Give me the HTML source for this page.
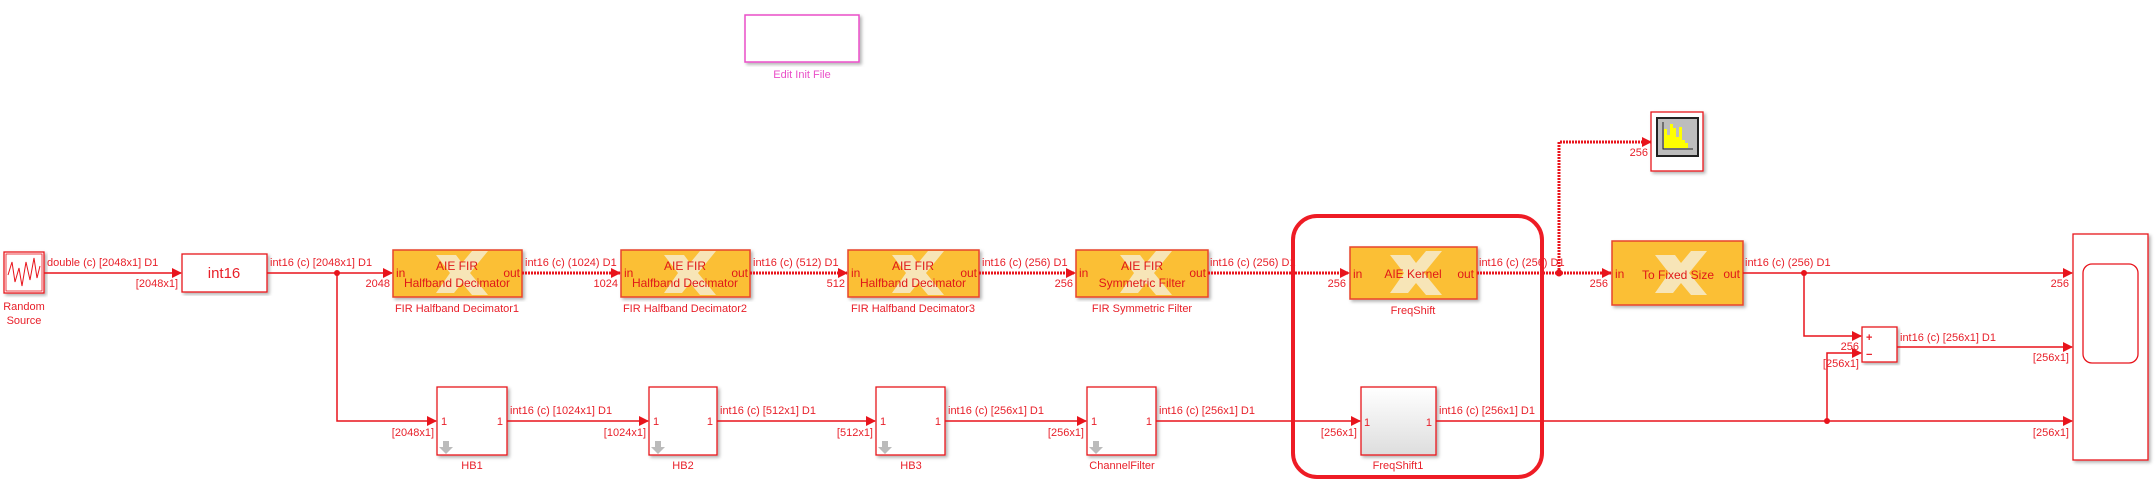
<!DOCTYPE html>
<html><head><meta charset="utf-8"><style>
html,body{margin:0;padding:0;background:#fff;}
svg{display:block;font-family:"Liberation Sans",sans-serif;}
.t{fill:#e8202a;font-size:11px;}
.l{stroke:#e8141c;stroke-width:1.5;fill:none;}
.d{stroke:#e8141c;stroke-width:3;fill:none;stroke-dasharray:2 1;}
.b{fill:#fff;stroke:#e8141c;stroke-width:1.3;}
.o{fill:#fbbf36;stroke:#e8452a;stroke-width:1.5;}
.ot{fill:#e01818;font-size:12px;}
</style></head><body>
<svg width="2155" height="483" viewBox="0 0 2155 483">
<defs>
<marker id="a" markerWidth="10" markerHeight="10" refX="9" refY="5" orient="auto" markerUnits="userSpaceOnUse"><path d="M0,0 L10,5 L0,10 z" fill="#e8141c"/></marker>
<filter id="s"><feDropShadow dx="2" dy="2" stdDeviation="1.5" flood-color="#000" flood-opacity="0.3"/></filter>
<linearGradient id="g" x1="0" y1="0" x2="0" y2="1"><stop offset="0" stop-color="#fff"/><stop offset="1" stop-color="#ddd"/></linearGradient>
<g id="x"><path d="M-22,-18 L-2,-18 L4,-10 L14,-22 L30,-22 L12,0 L30,22 L14,22 L4,10 L-4,20 L-22,20 L-8,0 z" fill="#f6efd8" opacity="0.8"/></g>
<g id="dn"><path d="M-3,-6 h6 v6 h4 l-7,7 l-7,-7 h4 z" fill="#bbb"/></g>
</defs>

<!-- Edit init file -->
<rect x="745" y="15" width="114" height="47" fill="#fff" stroke="#ea4fc8" stroke-width="1.5" filter="url(#s)"/>
<text x="802" y="78" fill="#ea4fc8" font-size="11" text-anchor="middle">Edit Init File</text>

<!-- Random source -->
<rect x="4" y="252" width="40" height="41" class="b" filter="url(#s)"/>
<rect x="6" y="254" width="36" height="37" fill="none" stroke="#e8141c" stroke-width="0.8"/>
<path d="M8,275 L12,262 L15,282 L19,268 L22,286 L26,262 L30,280 L34,258 L37,278 L40,266" fill="none" stroke="#e8141c" stroke-width="1"/>
<text x="24" y="310" class="t" text-anchor="middle">Random</text>
<text x="24" y="324" class="t" text-anchor="middle">Source</text>
<line x1="44" y1="273" x2="181" y2="273" class="l" marker-end="url(#a)"/>
<text x="47" y="266" class="t">double (c) [2048x1] D1</text>
<text x="178" y="287" class="t" text-anchor="end">[2048x1]</text>

<rect x="182" y="254" width="85" height="38" class="b" filter="url(#s)"/>
<text x="224" y="278" fill="#e8202a" font-size="15" text-anchor="middle">int16</text>
<line x1="267" y1="273" x2="392" y2="273" class="l" marker-end="url(#a)"/>
<text x="270" y="266" class="t">int16 (c) [2048x1] D1</text>
<circle cx="337" cy="273" r="3" fill="#e8141c"/>
<polyline points="337,273 337,421 436,421" class="l" marker-end="url(#a)"/>
<text x="390" y="287" class="t" text-anchor="end">2048</text>
<text x="434" y="436" class="t" text-anchor="end">[2048x1]</text>

<!-- FIR blocks -->
<g>
<rect x="393" y="250" width="129" height="47" class="o" filter="url(#s)"/><use href="#x" x="458" y="273"/>
<text x="457" y="270" class="ot" text-anchor="middle">AIE FIR</text><text x="457" y="287" class="ot" text-anchor="middle">Halfband Decimator</text>
<text x="396" y="277" class="ot">in</text><text x="520" y="277" class="ot" text-anchor="end">out</text>
<text x="457" y="312" class="t" text-anchor="middle">FIR Halfband Decimator1</text>
</g>
<line x1="522" y1="273" x2="620" y2="273" class="d" marker-end="url(#a)"/>
<text x="525" y="266" class="t">int16 (c) (1024) D1</text><text x="618" y="287" class="t" text-anchor="end">1024</text>
<g>
<rect x="621" y="250" width="129" height="47" class="o" filter="url(#s)"/><use href="#x" x="686" y="273"/>
<text x="685" y="270" class="ot" text-anchor="middle">AIE FIR</text><text x="685" y="287" class="ot" text-anchor="middle">Halfband Decimator</text>
<text x="624" y="277" class="ot">in</text><text x="748" y="277" class="ot" text-anchor="end">out</text>
<text x="685" y="312" class="t" text-anchor="middle">FIR Halfband Decimator2</text>
</g>
<line x1="750" y1="273" x2="847" y2="273" class="d" marker-end="url(#a)"/>
<text x="753" y="266" class="t">int16 (c) (512) D1</text><text x="845" y="287" class="t" text-anchor="end">512</text>
<g>
<rect x="848" y="250" width="131" height="47" class="o" filter="url(#s)"/><use href="#x" x="914" y="273"/>
<text x="913" y="270" class="ot" text-anchor="middle">AIE FIR</text><text x="913" y="287" class="ot" text-anchor="middle">Halfband Decimator</text>
<text x="851" y="277" class="ot">in</text><text x="977" y="277" class="ot" text-anchor="end">out</text>
<text x="913" y="312" class="t" text-anchor="middle">FIR Halfband Decimator3</text>
</g>
<line x1="979" y1="273" x2="1075" y2="273" class="d" marker-end="url(#a)"/>
<text x="982" y="266" class="t">int16 (c) (256) D1</text><text x="1073" y="287" class="t" text-anchor="end">256</text>
<g>
<rect x="1076" y="250" width="132" height="47" class="o" filter="url(#s)"/><use href="#x" x="1142" y="273"/>
<text x="1142" y="270" class="ot" text-anchor="middle">AIE FIR</text><text x="1142" y="287" class="ot" text-anchor="middle">Symmetric Filter</text>
<text x="1079" y="277" class="ot">in</text><text x="1206" y="277" class="ot" text-anchor="end">out</text>
<text x="1142" y="312" class="t" text-anchor="middle">FIR Symmetric Filter</text>
</g>
<line x1="1208" y1="273" x2="1349" y2="273" class="d" marker-end="url(#a)"/>
<text x="1210" y="266" class="t">int16 (c) (256) D1</text><text x="1346" y="287" class="t" text-anchor="end">256</text>

<!-- FreqShift -->
<rect x="1350" y="247" width="127" height="52" class="o" filter="url(#s)"/><use href="#x" x="1412" y="273"/>
<text x="1413" y="278" class="ot" text-anchor="middle">AIE Kernel</text>
<text x="1353" y="278" class="ot">in</text><text x="1474" y="278" class="ot" text-anchor="end">out</text>
<text x="1413" y="314" class="t" text-anchor="middle">FreqShift</text>
<line x1="1477" y1="273" x2="1611" y2="273" class="d" marker-end="url(#a)"/>
<text x="1479" y="266" class="t">int16 (c) (256) D1</text>
<circle cx="1559" cy="273" r="3.5" fill="#e8141c"/>
<polyline points="1559,273 1559,142 1651,142" class="d" marker-end="url(#a)"/>
<text x="1648" y="156" class="t" text-anchor="end">256</text>
<text x="1608" y="287" class="t" text-anchor="end">256</text>

<!-- spectrum scope -->
<rect x="1651" y="112" width="52" height="59" class="b" filter="url(#s)"/>
<rect x="1657" y="118" width="41" height="38" fill="#bdbdbd" stroke="#222" stroke-width="2"/>
<g fill="#ffff00">
<rect x="1664" y="129" width="3" height="19"/>
<rect x="1667" y="135" width="3" height="13"/>
<rect x="1670" y="124" width="3" height="24"/>
<rect x="1673" y="128" width="3" height="20"/>
<rect x="1676" y="137" width="3" height="11"/>
<rect x="1679" y="127" width="3" height="21"/>
<rect x="1682" y="140" width="3" height="8"/>
<rect x="1685" y="143" width="3" height="5"/>
</g>
<path d="M1663,122 V149 H1693" fill="none" stroke="#222" stroke-width="1"/>

<!-- To Fixed Size -->
<rect x="1612" y="241" width="131" height="64" class="o" filter="url(#s)"/><use href="#x" x="1677" y="273"/>
<text x="1678" y="279" class="ot" text-anchor="middle">To Fixed Size</text>
<text x="1615" y="278" class="ot">in</text><text x="1740" y="278" class="ot" text-anchor="end">out</text>
<line x1="1743" y1="273" x2="2072" y2="273" class="l" marker-end="url(#a)"/>
<text x="1745" y="266" class="t">int16 (c) (256) D1</text>
<text x="2069" y="287" class="t" text-anchor="end">256</text>
<circle cx="1804" cy="273" r="3" fill="#e8141c"/>
<polyline points="1804,273 1804,336 1861,336" class="l" marker-end="url(#a)"/>
<text x="1859" y="350" class="t" text-anchor="end">256</text>

<!-- Sum -->
<rect x="1862" y="327" width="35" height="35" class="b" filter="url(#s)"/>
<text x="1866" y="341" class="t" font-weight="bold">+</text>
<text x="1866" y="358" class="t" font-weight="bold">−</text>
<line x1="1897" y1="347" x2="2072" y2="347" class="l" marker-end="url(#a)"/>
<text x="1900" y="341" class="t">int16 (c) [256x1] D1</text>
<text x="2069" y="361" class="t" text-anchor="end">[256x1]</text>

<!-- Scope -->
<rect x="2073" y="234" width="75" height="226" class="b" filter="url(#s)"/>
<rect x="2083" y="264" width="55" height="99" rx="9" fill="#fff" stroke="#e8141c" stroke-width="1.3"/>

<!-- lower row -->
<rect x="437" y="387" width="70" height="68" class="b" filter="url(#s)"/>
<text x="441" y="425" class="t">1</text><text x="503" y="425" class="t" text-anchor="end">1</text><use href="#dn" x="446" y="447"/>
<text x="472" y="469" class="t" text-anchor="middle">HB1</text>
<line x1="507" y1="421" x2="648" y2="421" class="l" marker-end="url(#a)"/>
<text x="510" y="414" class="t">int16 (c) [1024x1] D1</text><text x="646" y="436" class="t" text-anchor="end">[1024x1]</text>

<rect x="649" y="387" width="68" height="68" class="b" filter="url(#s)"/>
<text x="653" y="425" class="t">1</text><text x="713" y="425" class="t" text-anchor="end">1</text><use href="#dn" x="658" y="447"/>
<text x="683" y="469" class="t" text-anchor="middle">HB2</text>
<line x1="717" y1="421" x2="875" y2="421" class="l" marker-end="url(#a)"/>
<text x="720" y="414" class="t">int16 (c) [512x1] D1</text><text x="873" y="436" class="t" text-anchor="end">[512x1]</text>

<rect x="876" y="387" width="69" height="68" class="b" filter="url(#s)"/>
<text x="880" y="425" class="t">1</text><text x="941" y="425" class="t" text-anchor="end">1</text><use href="#dn" x="885" y="447"/>
<text x="911" y="469" class="t" text-anchor="middle">HB3</text>
<line x1="945" y1="421" x2="1086" y2="421" class="l" marker-end="url(#a)"/>
<text x="948" y="414" class="t">int16 (c) [256x1] D1</text><text x="1084" y="436" class="t" text-anchor="end">[256x1]</text>

<rect x="1087" y="387" width="69" height="68" class="b" filter="url(#s)"/>
<text x="1091" y="425" class="t">1</text><text x="1152" y="425" class="t" text-anchor="end">1</text><use href="#dn" x="1096" y="447"/>
<text x="1122" y="469" class="t" text-anchor="middle">ChannelFilter</text>
<line x1="1156" y1="421" x2="1360" y2="421" class="l" marker-end="url(#a)"/>
<text x="1159" y="414" class="t">int16 (c) [256x1] D1</text><text x="1357" y="436" class="t" text-anchor="end">[256x1]</text>

<rect x="1361" y="387" width="75" height="68" fill="url(#g)" stroke="#e8141c" stroke-width="1.3" filter="url(#s)"/>
<text x="1364" y="426" class="t">1</text><text x="1432" y="426" class="t" text-anchor="end">1</text>
<text x="1398" y="469" class="t" text-anchor="middle">FreqShift1</text>
<line x1="1436" y1="421" x2="2072" y2="421" class="l" marker-end="url(#a)"/>
<text x="1439" y="414" class="t">int16 (c) [256x1] D1</text>
<text x="2069" y="436" class="t" text-anchor="end">[256x1]</text>
<circle cx="1827" cy="421" r="3" fill="#e8141c"/>
<polyline points="1827,421 1827,353 1861,353" class="l" marker-end="url(#a)"/>
<text x="1859" y="367" class="t" text-anchor="end">[256x1]</text>

<!-- highlight area -->
<rect x="1293" y="216" width="249" height="261" rx="24" fill="none" stroke="#ee1c25" stroke-width="4"/>
</svg>
</body></html>
